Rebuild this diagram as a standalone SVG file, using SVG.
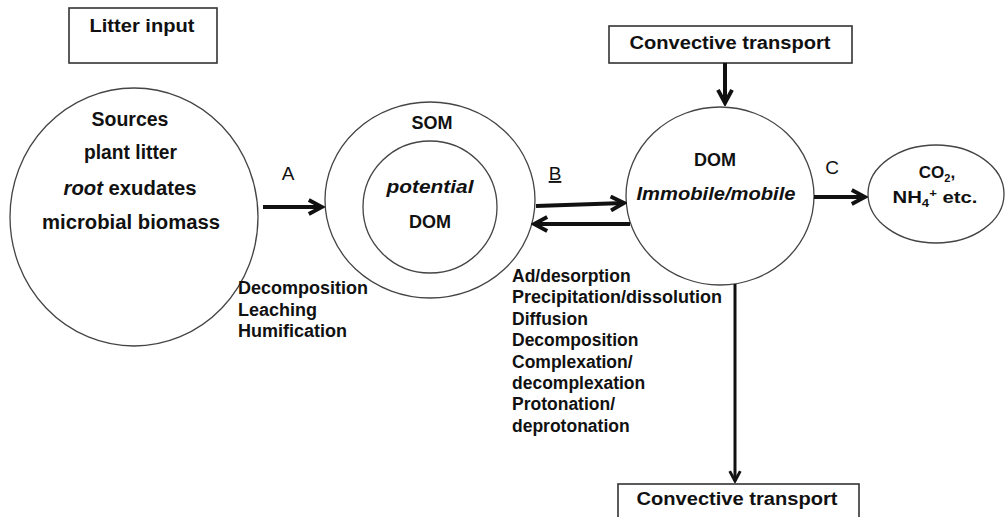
<svg xmlns="http://www.w3.org/2000/svg" width="1005" height="517" viewBox="0 0 1005 517">
<defs>
<style>
text{font-family:"Liberation Sans",Arial,sans-serif;font-weight:bold;fill:#111;}
.c{text-anchor:middle;}
.lab{font-weight:normal;font-size:19px;}
.n{fill:#fff;stroke:#444;stroke-width:1.3;}
.box{fill:#fff;stroke:#333;stroke-width:1.6;}
.arr{fill:none;stroke:#111;stroke-width:4;marker-end:url(#ah);}
.t18{font-size:18px;}
.t17{font-size:17.5px;}
.t20{font-size:19.5px;}
.it{font-style:italic;}
</style>
<marker id="ah" viewBox="0 0 10 10" refX="8.5" refY="5" markerWidth="4.4" markerHeight="4.4" orient="auto" markerUnits="strokeWidth">
<path d="M1,1 L8.5,5 L1,9" fill="none" stroke="#111" stroke-width="2.2" stroke-linejoin="miter"/>
</marker>
</defs>
<rect width="1005" height="517" fill="#fff"/>

<g id="litter-input">
<rect class="box" x="69" y="8" width="148" height="55"/>
<text class="c t18" x="142" y="32" textLength="105" lengthAdjust="spacingAndGlyphs">Litter input</text>
</g>

<g id="sources">
<ellipse class="n" cx="134" cy="217" rx="124" ry="129"/>
<text class="c t20" x="130" y="126">Sources</text>
<text class="c t20" x="130.5" y="159" textLength="93" lengthAdjust="spacingAndGlyphs">plant litter</text>
<text class="c t20" x="130" y="195" textLength="133" lengthAdjust="spacingAndGlyphs"><tspan class="it">root</tspan> exudates</text>
<text class="c t20" x="131" y="229" textLength="178" lengthAdjust="spacingAndGlyphs">microbial biomass</text>
</g>

<g id="som">
<ellipse class="n" cx="430" cy="200" rx="105" ry="98"/>
<ellipse class="n" cx="430" cy="207" rx="67" ry="66"/>
<text class="c t18" x="432" y="129">SOM</text>
<text class="c t18 it" x="430" y="193" textLength="87" lengthAdjust="spacingAndGlyphs">potential</text>
<text class="c t18" x="430" y="228">DOM</text>
</g>

<g id="dom">
<ellipse class="n" cx="720" cy="196" rx="94" ry="89"/>
<text class="c t18" x="715" y="166">DOM</text>
<text class="c t18 it" x="716" y="200" textLength="159" lengthAdjust="spacingAndGlyphs">Immobile/mobile</text>
</g>

<g id="products">
<ellipse class="n" cx="936" cy="194" rx="68" ry="49"/>
<text class="c" x="937" y="178" font-size="17">CO<tspan font-size="11" dy="4">2</tspan><tspan dy="-4">,</tspan></text>
<text class="c" x="935" y="203" font-size="17" textLength="85" lengthAdjust="spacingAndGlyphs">NH<tspan font-size="11" dy="4">4</tspan><tspan font-size="11" dy="-10">+</tspan><tspan dy="6"> etc.</tspan></text>
</g>

<g id="convective-top">
<rect class="box" x="609" y="26" width="243" height="37"/>
<text class="c t18" x="730" y="49" textLength="201" lengthAdjust="spacingAndGlyphs">Convective transport</text>
</g>

<g id="convective-bottom">
<rect class="box" x="618" y="484" width="241" height="40"/>
<text class="c t18" x="737" y="505" textLength="201" lengthAdjust="spacingAndGlyphs">Convective transport</text>
</g>

<g id="connectors">
<line class="arr" x1="263" y1="207" x2="322" y2="207"/>
<line class="arr" x1="536" y1="206" x2="624" y2="203"/>
<line class="arr" x1="630" y1="224" x2="534" y2="224"/>
<line class="arr" x1="725" y1="63" x2="725" y2="103"/>
<line class="arr" x1="814" y1="197" x2="865" y2="197"/>
<line class="arr" x1="735" y1="284" x2="735" y2="481" style="stroke-width:3"/>
</g>

<g id="labels">
<text class="c lab" x="288" y="180">A</text>
<text class="c lab" x="555" y="180" text-decoration="underline">B</text>
<text class="c lab" x="832" y="174">C</text>
<g class="t18">
<text x="238" y="294">Decomposition</text>
<text x="238" y="315.5">Leaching</text>
<text x="238" y="337">Humification</text>
</g>
<g class="t17">
<text x="512" y="282">Ad/desorption</text>
<text x="512" y="303.4" textLength="210" lengthAdjust="spacingAndGlyphs">Precipitation/dissolution</text>
<text x="512" y="324.8">Diffusion</text>
<text x="512" y="346.2">Decomposition</text>
<text x="512" y="367.6">Complexation/</text>
<text x="512" y="389">decomplexation</text>
<text x="512" y="410.4">Protonation/</text>
<text x="512" y="431.8">deprotonation</text>
</g>
</g>
</svg>
